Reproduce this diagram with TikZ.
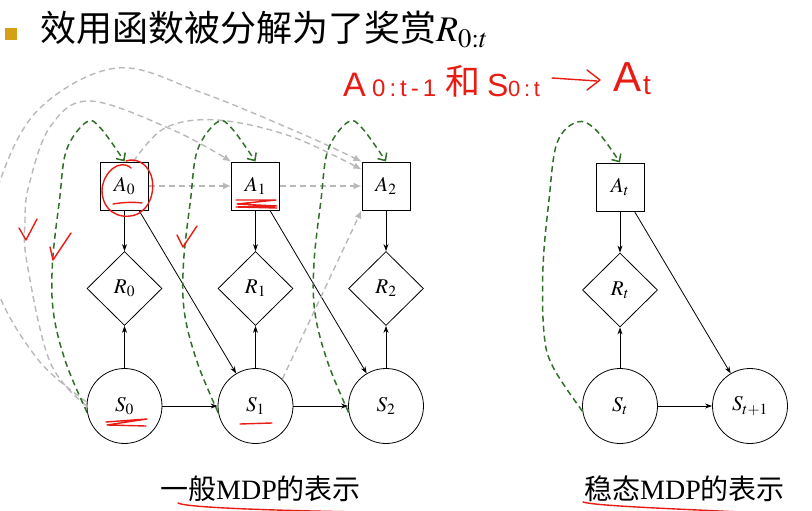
\documentclass[tikz,border=0pt]{standalone}
\usepackage{mathptmx}
\usepackage{fontspec}
\setmainfont{Liberation Serif}
\newfontfamily\cjk{Noto Sans CJK SC}
\newfontfamily\hand{Liberation Sans}
\usepackage{tikz}
\usetikzlibrary{shapes.geometric, arrows.meta}
\usepackage{xcolor}

\definecolor{dashgreen}{RGB}{48,112,40}
\definecolor{dashgray}{RGB}{185,185,185}
\definecolor{inkred}{RGB}{232,28,20}
\definecolor{bulletgold}{RGB}{214,160,20}

\begin{document}
\begin{tikzpicture}[
  x=1pt, y=-1pt,
  act/.style={rectangle, draw, line width=1pt, minimum size=48pt,
              inner sep=0pt, font=\fontsize{21}{24}\selectfont},
  rew/.style={diamond, draw, line width=0.8pt, minimum width=75pt,
              minimum height=74pt, inner sep=0pt,
              font=\fontsize{21}{24}\selectfont},
  snode/.style={circle, draw, line width=0.8pt, minimum size=75pt,
                inner sep=0pt, font=\fontsize{21}{24}\selectfont},
  arr/.style={-{Stealth[length=7pt,width=5pt]}, line width=0.8pt},
  dep/.style={-{Straight Barb[length=6pt,width=11pt]}, dashgreen,
              line width=1.5pt, dash pattern=on 6pt off 4pt},
  hist/.style={-{Latex[length=8pt,width=7pt]}, dashgray,
               line width=1.4pt, dash pattern=on 6pt off 4pt},
  scrib/.style={draw=inkred, line width=1.4pt, line cap=round,
                line join=round},
  capt/.style={font=\fontsize{28}{30}\selectfont, inner sep=0pt},
  handtxt/.style={text=inkred, anchor=base west, inner sep=0pt}
]
\useasboundingbox (0,0) rectangle (812,511);

% ----- title -----
\fill[bulletgold] (5,28) rectangle (17,40);
\node[anchor=base west, inner sep=0pt, font=\cjk\fontsize{36}{40}\selectfont]
  (title) at (40,42) {效用函数被分解为了奖赏$R_{0:t}$};

% ----- general MDP -----
\node[act] (a0) at (124.5,186) {$A_0$};
\node[act] (a1) at (255.5,186) {$A_1$};
\node[act] (a2) at (386,186) {$A_2$};

\node[rew] (r0) at (124.5,288.5) {$R_0$};
\node[rew] (r1) at (255.5,288.5) {$R_1$};
\node[rew] (r2) at (386,288.5) {$R_2$};

\node[snode] (s0) at (124.5,406) {$S_0$};
\node[snode] (s1) at (255.5,406) {$S_1$};
\node[snode] (s2) at (386,406) {$S_2$};

\node[capt] (cap1) at (260.5,489) {{\cjk 一般}MDP{\cjk 的表示}};

% ----- stationary MDP -----
\node[act] (at) at (620,187) {$A_t$};
\node[rew] (rt) at (620,290) {$R_t$};
\node[snode] (st) at (620,406) {$S_t$};
\node[snode] (sn) at (750,406) {$S_{t+1}$};

\node[capt] (cap2) at (684.5,489) {{\cjk 稳态}MDP{\cjk 的表示}};

% ----- solid arrows -----
\draw[arr] (a0) -- (r0);
\draw[arr] (s0) -- (r0);
\draw[arr] (a1) -- (r1);
\draw[arr] (s1) -- (r1);
\draw[arr] (a2) -- (r2);
\draw[arr] (s2) -- (r2);
\draw[arr] (s0) -- (s1);
\draw[arr] (s1) -- (s2);
\draw[arr] (a0) -- (s1);
\draw[arr] (a1) -- (s2);

\draw[arr] (at) -- (rt);
\draw[arr] (st) -- (rt);
\draw[arr] (st) -- (sn);
\draw[arr] (at) -- (sn);

% ----- history (gray dashed) -----
\draw[hist] (a0) -- (a1);
\draw[hist] (a1) -- (a2);
\draw[hist] (s1.45) -- (a2.south west);
\draw[hist] plot[smooth, tension=0.6] coordinates
  {(a0.70) (165,128) (217,120) (290,136) (a2.146)};
\draw[hist] plot[smooth, tension=0.6] coordinates
  {(s0.180) (50,362) (27,263) (25,220) (29,185) (50,127) (90,101)
   (173,130) (a1.north west)};
\draw[hist] plot[smooth, tension=0.6] coordinates
  {(s0.174) (40,362) (0,297) (-8,240) (1,178) (40,108) (117,68)
   (200,92) (300,133) (a2.north west)};

% ----- state to action (green dashed) -----
\draw[dep] plot[smooth, tension=0.6] coordinates
  {(s0.190) (66,363) (53.5,313) (52.5,263) (59.5,200) (66.5,150)
   (86.5,122) (100.5,128) (a0.north)};
\draw[dep] plot[smooth, tension=0.6] coordinates
  {(s1.190) (197.5,363) (184.5,313) (183.5,263) (190.5,200) (197.5,150)
   (217.5,122) (231.5,128) (a1.north)};
\draw[dep] plot[smooth, tension=0.6] coordinates
  {(s2.190) (328,363) (315,313) (314,263) (321,200) (328,150)
   (348,122) (362,128) (a2.north)};
\draw[dep] plot[smooth, tension=0.6] coordinates
  {(st.188) (553,367) (544,333) (543,267) (549,200) (557,143)
   (577,122) (596,130) (at.north)};

% ----- red handwriting -----
\node[handtxt, font=\hand\fontsize{34}{36}\selectfont] (hA) at (343,97) {A};
\node[handtxt, font=\hand\fontsize{24}{26}\selectfont] (hsa) at (372,97)
  {0\,:\,t\,-\,1};
\node[handtxt, font=\cjk\fontsize{35}{36}\selectfont] (hhe) at (445,95) {和};
\node[handtxt, font=\hand\fontsize{32}{34}\selectfont] (hS) at (487,97) {S};
\node[handtxt, font=\hand\fontsize{22}{24}\selectfont] (hsb) at (508,97)
  {0\,:\,t};
\node[handtxt, font=\hand\fontsize{42}{44}\selectfont] (hA2) at (613,92) {A};
\node[handtxt, font=\hand\fontsize{28}{30}\selectfont] (ht) at (643,95) {t};
\draw[scrib] (552,78) -- (597,81);
\draw[scrib] (587,70) -- (600,80) -- (587,90);

% ----- red marks -----
\draw[scrib] (131,168) .. controls (120,158) and (103,172) .. (102,190)
  .. controls (102,210) and (118,220) .. (135,215)
  .. controls (150,210) and (156,190) .. (151,175)
  .. controls (146,162) and (135,158) .. (126,161);
\draw[scrib] (113,204) .. controls (125,202) and (135,202) .. (142,203);
\draw[scrib] (236,200) -- (276,200) -- (237,204) -- (277,206)
  -- (236,207) -- (277,208);
\draw[scrib] (19,228) -- (26,240) -- (37,219);
\draw[scrib] (50,247) -- (53,260) -- (71,233);
\draw[scrib] (177,235) -- (183,247) -- (197,226);
\draw[scrib] (106,422) -- (147,419) -- (107,425) -- (146,426);
\draw[scrib] (240,424) -- (272,423);
\draw[scrib] (178,503) .. controls (185,507) and (250,510) .. (360,512);
\draw[scrib] (583,502) .. controls (595,506) and (680,509) .. (740,512);

\end{tikzpicture}
\end{document}
